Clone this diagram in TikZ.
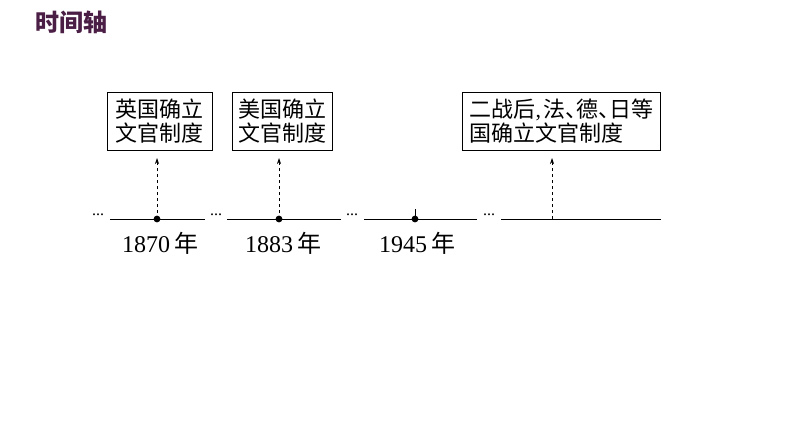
\documentclass[tikz,border=0pt]{standalone}
\usepackage{fontspec}
\setmainfont{Liberation Serif}
\newfontfamily\cjk{Noto Sans CJK SC}
\usetikzlibrary{arrows.meta}
\definecolor{ttl}{RGB}{75,30,70}
\newcommand{\dun}{、\hspace{-0.5em}}
\begin{document}
\begin{tikzpicture}[x=1pt,y=-1pt,
  box/.style={draw,line width=0.9pt,inner sep=1pt,align=left,font=\cjk\fontsize{22}{24}\selectfont},
  seg/.style={line width=0.9pt},
  dots/.style={font=\fontsize{16}{16}\selectfont,inner sep=0},
  yr/.style={font=\fontsize{24}{26}\selectfont,inner sep=0},
  up/.style={dashed,line width=0.7pt,-{Stealth[length=6pt,width=4pt]}}]
\useasboundingbox (0,0) rectangle (794,447);
\node[anchor=west,text=ttl,font=\cjk\bfseries\fontsize{24}{26}\selectfont] (t) at (32,22) {时间轴};
\node[dots] (d1) at (98,215) {...};
\node[dots] (d2) at (216,215) {...};
\node[dots] (d3) at (352,215) {...};
\node[dots] (d4) at (489,215) {...};
\coordinate (a1) at (110,219); \coordinate (b1) at (205,219);
\coordinate (a2) at (227,219); \coordinate (b2) at (341,219);
\coordinate (a3) at (364,219); \coordinate (b3) at (477,219);
\coordinate (a4) at (501,219); \coordinate (b4) at (661,219);
\draw[seg] (a1)--(b1); \draw[seg] (a2)--(b2); \draw[seg] (a3)--(b3); \draw[seg] (a4)--(b4);
\coordinate (p1) at (157,219); \coordinate (p2) at (279,219); \coordinate (p3) at (415,219); \coordinate (p4) at (552,219);
\fill (p1) circle (3.4); \fill (p2) circle (3.4); \fill (p3) circle (3.4);
\coordinate (p3t) at (415,209); \draw[seg] (p3)--(p3t);
\node[box,minimum width=105,minimum height=58,anchor=north west] (x1) at (107,92) {英国确立\\文官制度};
\node[box,minimum width=100,minimum height=58,anchor=north west] (x2) at (232,92) {美国确立\\文官制度};
\node[box,minimum width=198,minimum height=58,anchor=north west] (x3) at (462,92) {二战后{\rmfamily ,}\hspace{0.1em}法\dun 德\dun 日等\\国确立文官制度};
\coordinate (q1) at (157,158); \coordinate (q2) at (279,158); \coordinate (q4) at (552,158);
\draw[up] (p1)--(q1); \draw[up] (p2)--(q2); \draw[up] (p4)--(q4);
\node[yr] (y1) at (160,243) {1870\,{\cjk 年}};
\node[yr] (y2) at (283,243) {1883\,{\cjk 年}};
\node[yr] (y3) at (417,243) {1945\,{\cjk 年}};
\end{tikzpicture}
\end{document}
